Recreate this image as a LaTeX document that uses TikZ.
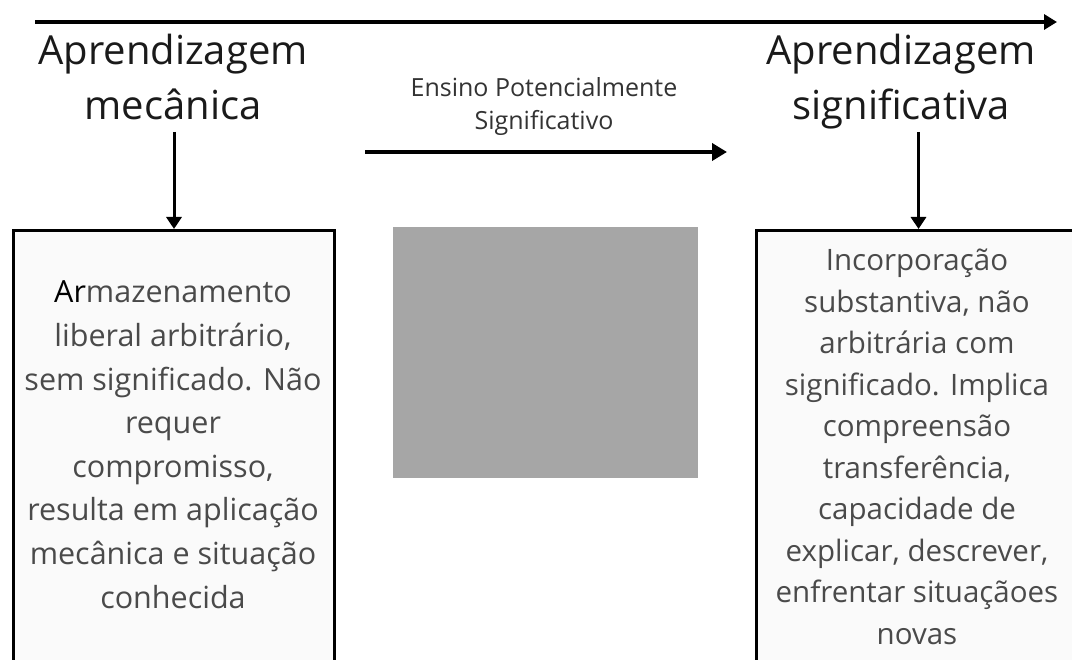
\documentclass[tikz,border=0pt]{standalone}
\usepackage{fontspec}
\setmainfont{Open Sans}
\usetikzlibrary{arrows.meta}
\definecolor{titlecol}{HTML}{1A1A1A}
\definecolor{bodycol}{HTML}{4A4A4A}
\definecolor{midcol}{HTML}{333333}
\definecolor{imgcol}{HTML}{A6A6A6}
\definecolor{boxfill}{HTML}{FAFAFA}
\begin{document}
\begin{tikzpicture}[x=1pt,y=-1pt,
  title/.style={font=\fontsize{40}{55}\selectfont, text=titlecol, align=center, inner sep=0pt, anchor=base},
  midtext/.style={font=\fontsize{25}{33}\selectfont, text=midcol, align=center, inner sep=0pt, anchor=base},
  frame/.style={draw=black, line width=3pt, fill=boxfill, inner sep=0pt, anchor=north west},
  bodyleft/.style={font=\fontsize{30.5}{43.6}\selectfont, text=bodycol, align=center, inner sep=0pt, anchor=base},
  bodyright/.style={font=\fontsize{29.5}{41.5}\selectfont, text=bodycol, align=center, inner sep=0pt, anchor=base},
  bigarrow/.style={line width=4pt, -{Triangle[length=13pt,width=15pt]}},
  midarrow/.style={line width=4pt, -{Triangle[length=15pt,width=17pt]}},
  downarrow/.style={line width=3pt, -{Triangle[length=12pt,width=15pt]}}
]
\useasboundingbox (0,0) rectangle (1072,660);
\clip (0,0) rectangle (1072,660);

% boxes
\node[frame, minimum width=321pt, minimum height=480pt] (lbox) at (12,229) {};
\node[frame, minimum width=324pt, minimum height=480pt] (rbox) at (755,229) {};
\node[fill=imgcol, inner sep=0pt, minimum width=305pt, minimum height=251pt, anchor=north west] (img) at (393,227) {};

% titles (anchor base = baseline of last line)
\node[title] (lt) at (173,120) {Aprendizagem\\mecânica};
\node[title] (rt) at (901,120) {Aprendizagem\\significativa};
\node[midtext] (mt) at (544,130) {Ensino Potencialmente\\Significativo};

% box texts
\node[bodyleft] (ltext) at (173,608) {\textcolor{black}{Ar}mazenamento\\liberal arbitrário,\\sem significado. Não\\requer\\compromisso,\\resulta em aplicação\\mecânica e situação\\conhecida};
\node[bodyright] (rtext) at (917,644) {Incorporação\\substantiva, não\\arbitrária com\\significado. Implica\\compreensão\\transferência,\\capacidade de\\explicar, descrever,\\enfrentar situaçãoes\\novas};

% arrows
\coordinate (ts) at (35,22);
\coordinate (te) at (1057,22);
\draw[bigarrow] (ts) -- (te);
\coordinate (ms) at (365,152);
\coordinate (me) at (727,152);
\draw[midarrow] (ms) -- (me);
\coordinate (la) at (lbox.north |- 0,132);
\draw[downarrow] (la) -- (lbox.north);
\coordinate (ra) at (rbox.north |- 0,132);
\draw[downarrow] (ra) -- (rbox.north);
\end{tikzpicture}
\end{document}
